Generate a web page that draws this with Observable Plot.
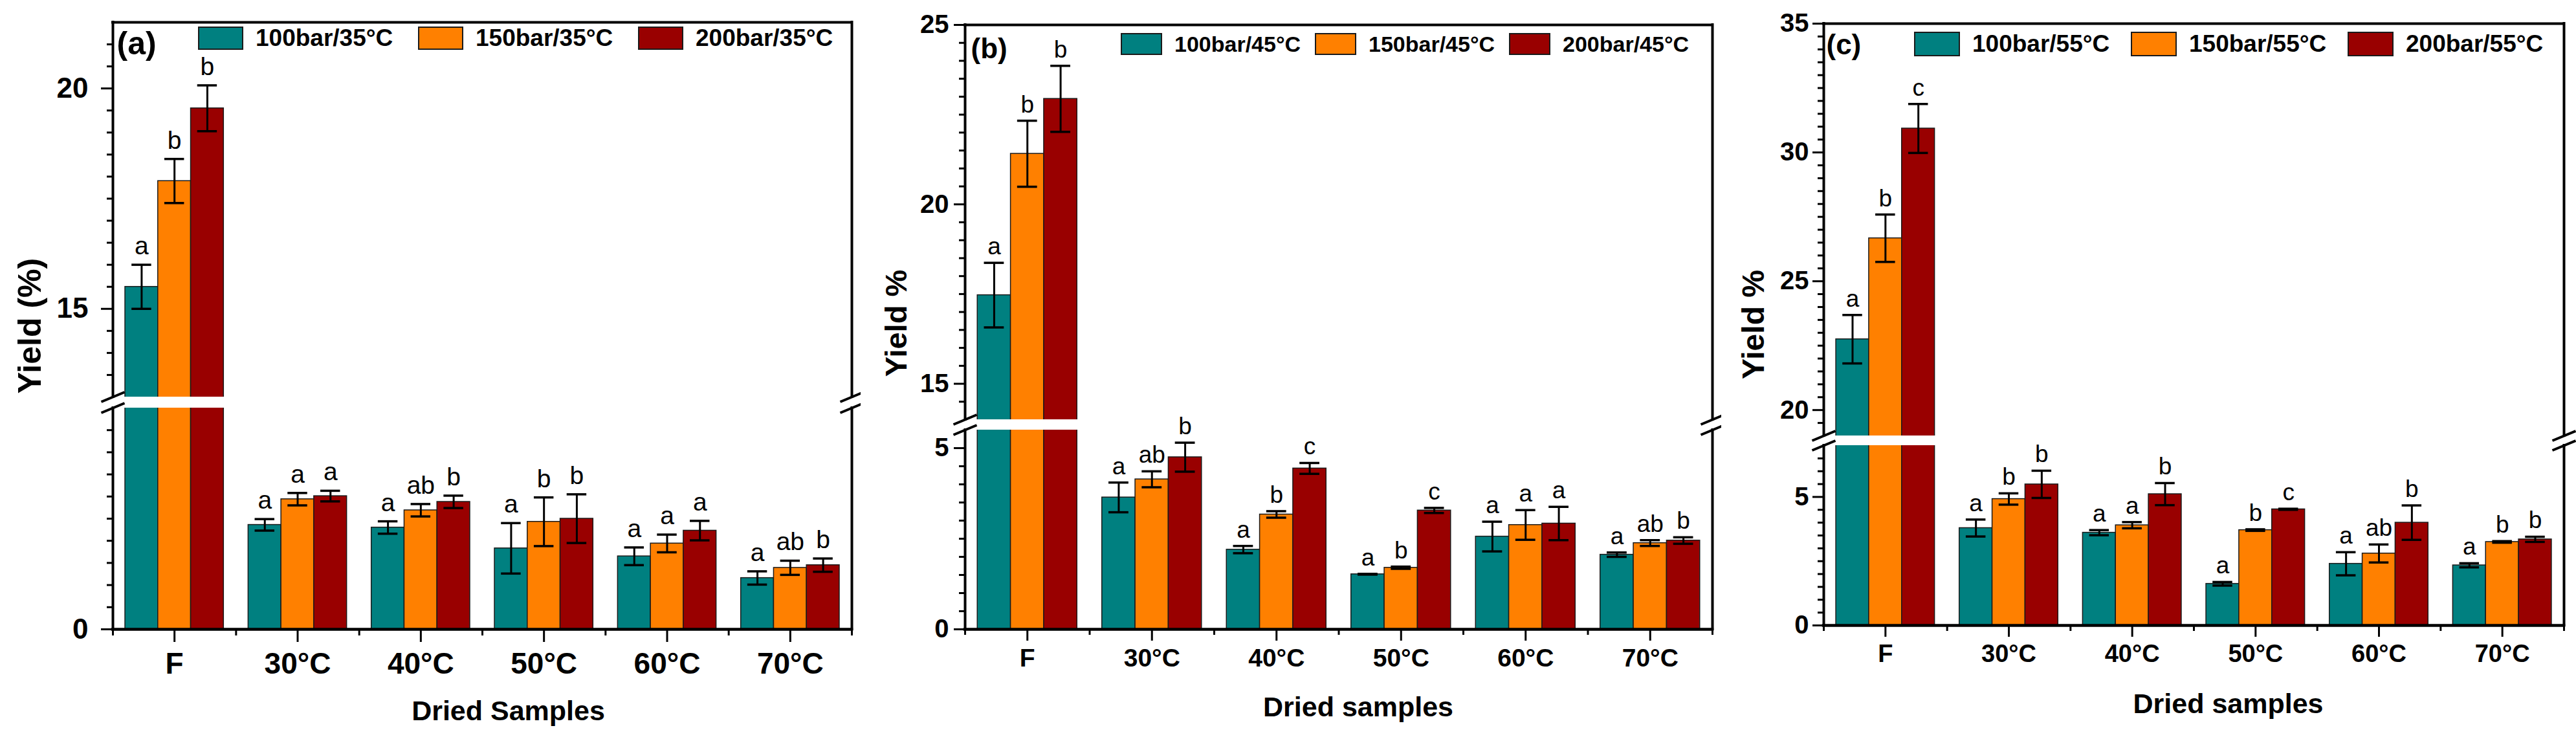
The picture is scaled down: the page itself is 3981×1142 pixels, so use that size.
<!DOCTYPE html>
<html>
<head>
<meta charset="utf-8">
<script src="https://cdn.jsdelivr.net/npm/d3@7"></script>
<script src="https://cdn.jsdelivr.net/npm/@observablehq/plot@0.6"></script>
<style>
  html, body { margin: 0; padding: 0; background: white; }
  #root { position: relative; width: 3981px; height: 1142px; overflow: hidden; background: white; }
  .panel { position: absolute; top: 0; }
  .leg { position: absolute; }
  .lg-swatches { min-height: 0 !important; margin: 0 !important; flex-wrap: nowrap !important; }
  .lg-swatch { margin-right: 0 !important; flex: none; }
  .lg-swatch > svg { margin-right: 20px !important; overflow: visible; }
  .lg-swatch rect { stroke: #1a1a1a; stroke-width: 2px; }
</style>
</head>
<body>
<div id="root"></div>
<script>
// ---------- data ----------
const categories = ["F", "30°C", "40°C", "50°C", "60°C", "70°C"];
const colors = ["#008080", "#ff8000", "#990000"];

const seriesA = ["100bar/35°C", "150bar/35°C", "200bar/35°C"];
const yA100 = [15.50, 2.36, 2.30, 1.83, 1.65, 1.16];
const yA150 = [17.90, 2.94, 2.69, 2.43, 1.94, 1.39];
const yA200 = [19.55, 3.01, 2.88, 2.50, 2.23, 1.45];
const eA100 = [0.50, 0.13, 0.14, 0.57, 0.20, 0.15];
const eA150 = [0.50, 0.14, 0.14, 0.55, 0.20, 0.16];
const eA200 = [0.52, 0.12, 0.14, 0.55, 0.22, 0.15];
const lA100 = ["a", "a", "a", "a", "a", "a"];
const lA150 = ["b", "a", "ab", "b", "a", "ab"];
const lA200 = ["b", "a", "b", "b", "a", "b"];

const seriesB = ["100bar/45°C", "150bar/45°C", "200bar/45°C"];
const yB100 = [17.47, 3.64, 2.20, 1.52, 2.56, 2.06];
const yB150 = [21.41, 4.14, 3.17, 1.70, 2.88, 2.38];
const yB200 = [22.94, 4.75, 4.44, 3.28, 2.92, 2.45];
const eB100 = [0.90, 0.41, 0.10, 0.01, 0.41, 0.06];
const eB150 = [0.92, 0.22, 0.09, 0.03, 0.41, 0.08];
const eB200 = [0.92, 0.40, 0.15, 0.07, 0.46, 0.09];
const lB100 = ["a", "a", "a", "a", "a", "a"];
const lB150 = ["b", "ab", "b", "b", "a", "ab"];
const lB200 = ["b", "b", "c", "c", "a", "b"];

const seriesC = ["100bar/55°C", "150bar/55°C", "200bar/55°C"];
const yC100 = [22.75, 3.79, 3.61, 1.62, 2.40, 2.34];
const yC150 = [26.67, 4.92, 3.90, 3.71, 2.80, 3.25];
const yC200 = [30.93, 5.49, 5.11, 4.52, 4.00, 3.35];
const eC100 = [0.94, 0.33, 0.10, 0.07, 0.45, 0.08];
const eC150 = [0.92, 0.22, 0.12, 0.03, 0.35, 0.03];
const eC200 = [0.95, 0.53, 0.43, 0.02, 0.67, 0.10];
const lC100 = ["a", "a", "a", "a", "a", "a"];
const lC150 = ["b", "b", "a", "b", "ab", "b"];
const lC200 = ["c", "b", "b", "c", "b", "b"];

// y-axis segments (broken axis) and tick labels
const domainA = [0, 5, 13, 21.5];
const domainB = [0, 5.5, 14, 25];
const domainC = [0, 7, 19, 35];
const ticksA = [0, 15, 20];
const ticksB = [0, 5, 15, 20, 25];
const ticksC = [0, 5, 20, 25, 30, 35];
const minorStep = 0.5;

// ---------- layout / style ----------
const H = 1142;
const FONT = "'Liberation Sans', Arial, Helvetica, sans-serif";
const GROUP = 0.8;     // fraction of a category slot filled by its three bars
const CAP = 0.08;      // half width of error-bar caps (slot units)

const slash = { draw(ctx) { ctx.moveTo(-18, 7.5); ctx.lineTo(18, -7.5); } };

function rowsOf(series, vals, errs, lets) {
  const rows = [];
  vals.forEach((arr, si) => arr.forEach((v, ci) => {
    const xc = ci + 0.5 + (si - 1) * GROUP / 3;
    rows.push({cat: categories[ci], series: series[si], si, ci, v, e: errs[si][ci], letter: lets[si][ci],
               xc, x1: xc - GROUP / 6, x2: xc + GROUP / 6});
  }));
  return rows;
}

function minorTicks(domain, majors) {
  const [a, b, c, d] = domain;
  const lo = d3.range(a, b - 1e-9, minorStep);
  const hi = d3.range(c + minorStep, d - 1e-9, minorStep);
  return lo.concat(hi).filter(t => !majors.some(m => Math.abs(m - t) < 1e-9));
}

function panel(cfg) {
  const rows = rowsOf(cfg.series, cfg.vals, cfg.errs, cfg.lets);
  const [d0, dLo, dHi, dTop] = cfg.domain;
  const bottom = H - cfg.mb;
  const range = [bottom, cfg.breakLoPx, cfg.breakHiPx, cfg.mt];
  const breaks = [
    {x: 0, y: dLo}, {x: 0, y: dHi}, {x: categories.length, y: dLo}, {x: categories.length, y: dHi}
  ];
  const n = categories.length;
  const plot = Plot.plot({
    width: cfg.width,
    height: H,
    marginLeft: cfg.ml, marginRight: cfg.mr, marginTop: cfg.mt, marginBottom: cfg.mb,
    style: {fontFamily: FONT, background: "white", overflow: "visible", color: "black"},
    x: {type: "linear", domain: [0, n], axis: null},
    y: {type: "linear", domain: cfg.domain, range, axis: null},
    color: {type: "ordinal", domain: cfg.series, range: colors},
    marks: [
      Plot.rect(rows, {x1: "x1", x2: "x2", y1: 0, y2: "v", fill: "series", stroke: "#1a1a1a", strokeWidth: 1.5}),
      Plot.rect([0], {x1: 0, x2: n, y1: dLo, y2: dHi, fill: "white"}),
      Plot.ruleX(rows, {x: "xc", y1: d => d.v - d.e, y2: d => d.v + d.e, stroke: "black", strokeWidth: 3}),
      Plot.ruleY(rows, {y: d => d.v + d.e, x1: d => d.xc - CAP, x2: d => d.xc + CAP, stroke: "black", strokeWidth: 3.5}),
      Plot.ruleY(rows, {y: d => d.v - d.e, x1: d => d.xc - CAP, x2: d => d.xc + CAP, stroke: "black", strokeWidth: 3.5}),
      // frame with broken vertical sides
      Plot.ruleX([0, n], {y1: d0, y2: dLo, stroke: "black", strokeWidth: 4, strokeLinecap: "square"}),
      Plot.ruleX([0, n], {y1: dHi, y2: dTop, stroke: "black", strokeWidth: 4, strokeLinecap: "square"}),
      Plot.ruleY([dTop], {x1: 0, x2: n, stroke: "black", strokeWidth: 4, strokeLinecap: "square"}),
      Plot.ruleY([d0], {x1: 0, x2: n, stroke: "black", strokeWidth: 4.5, strokeLinecap: "square"}),
      Plot.dot(breaks, {x: "x", y: "y", symbol: slash, r: 10, fill: "none", stroke: "black", strokeWidth: 4}),
      // axes
      Plot.axisY(cfg.ticks, {anchor: "left", tickSize: cfg.ytick, tickPadding: cfg.ypad, strokeWidth: 3,
        tickFormat: d => String(d), fontSize: cfg.tickFont, fontWeight: "bold", label: null}),
      Plot.axisY(minorTicks(cfg.domain, cfg.ticks), {anchor: "left", tickSize: 9, strokeWidth: 3,
        tickFormat: () => "", label: null}),
      Plot.axisX(d3.range(n).map(i => i + 0.5), {anchor: "bottom", tickSize: cfg.xtick, tickPadding: cfg.xpad,
        strokeWidth: 3, tickFormat: d => categories[Math.floor(d)], fontSize: cfg.catFont, fontWeight: "bold", label: null}),
      Plot.axisX(d3.range(n + 1), {anchor: "bottom", tickSize: cfg.xtick / 2, strokeWidth: 3,
        tickFormat: () => "", label: null}),
      // annotations
      Plot.text(rows, {x: "xc", y: d => d.v + d.e, text: "letter", dy: -cfg.letGap, lineAnchor: "bottom",
        fontSize: cfg.letFont, fill: "black"}),
      Plot.text([cfg.tag], {text: d => d, frameAnchor: "top-left", dx: cfg.tagDx, dy: cfg.tagDy, textAnchor: "start",
        lineAnchor: "top", fontSize: cfg.tagFont, fontWeight: "bold"}),
      Plot.text([cfg.ytitle], {text: d => d, frameAnchor: "left", rotate: -90, dx: cfg.ytDx, dy: cfg.ytDy,
        textAnchor: "middle", lineAnchor: "middle", fontSize: cfg.ytFont, fontWeight: "bold"}),
      Plot.text([cfg.xtitle], {text: d => d, frameAnchor: "bottom", dx: cfg.xtDx, dy: cfg.xtDy,
        textAnchor: "middle", lineAnchor: "top", fontSize: 43, fontWeight: "bold"})
    ]
  });
  const wrap = document.createElement("div");
  wrap.className = "panel";
  wrap.style.left = cfg.left + "px";
  wrap.appendChild(plot);
  document.getElementById("root").appendChild(wrap);

  const leg = Plot.legend({
    color: {type: "ordinal", domain: cfg.series, range: colors},
    legend: "swatches",
    swatchWidth: cfg.swW, swatchHeight: cfg.swH,
    className: "lg",
    style: {fontFamily: FONT, fontSize: cfg.legFont + "px", fontWeight: "bold", lineHeight: cfg.swH + "px", color: "black"}
  });
  const lw = document.createElement("div");
  lw.className = "leg";
  lw.style.left = cfg.legX + "px";
  lw.style.top = cfg.legY + "px";
  lw.appendChild(leg);
  document.getElementById("root").appendChild(lw);
  lw.querySelectorAll(".lg-swatch").forEach(s => { s.style.width = cfg.legStep + "px"; });
}

panel({
  left: 0, width: 1330, ml: 174, mr: 14, mt: 34, mb: 170, breakLoPx: 630, breakHiPx: 613,
  domain: domainA, ticks: ticksA, series: seriesA,
  vals: [yA100, yA150, yA200], errs: [eA100, eA150, eA200], lets: [lA100, lA150, lA200],
  ytick: 18, ypad: 20, tickFont: 44, xtick: 20, xpad: 16, catFont: 46,
  letFont: 39, letGap: 16,
  tag: "(a)", tagDx: 6, tagDy: 14, tagFont: 50,
  ytitle: "Yield (%)", ytDx: -128, ytDy: 0, ytFont: 50,
  xtitle: "Dried Samples", xtDx: 40, xtDy: 110,
  swW: 68, swH: 34, legX: 307, legY: 42, legStep: 340, legFont: 37
});

panel({
  left: 1330, width: 1330, ml: 161, mr: 14, mt: 38, mb: 170, breakLoPx: 664, breakHiPx: 648,
  domain: domainB, ticks: ticksB, series: seriesB,
  vals: [yB100, yB150, yB200], errs: [eB100, eB150, eB200], lets: [lB100, lB150, lB200],
  ytick: 17, ypad: 8, tickFont: 40, xtick: 18, xpad: 12, catFont: 39,
  letFont: 37, letGap: 13,
  tag: "(b)", tagDx: 9, tagDy: 20, tagFont: 44,
  ytitle: "Yield %", ytDx: -106, ytDy: -6, ytFont: 47,
  xtitle: "Dried samples", xtDx: 30, xtDy: 104,
  swW: 62, swH: 32, legX: 1733, legY: 52, legStep: 300, legFont: 34
});

panel({
  left: 2660, width: 1321, ml: 158, mr: 19, mt: 36, mb: 176, breakLoPx: 688, breakHiPx: 673,
  domain: domainC, ticks: ticksC, series: seriesC,
  vals: [yC100, yC150, yC200], errs: [eC100, eC150, eC200], lets: [lC100, lC150, lC200],
  ytick: 17, ypad: 6, tickFont: 40, xtick: 18, xpad: 12, catFont: 38,
  letFont: 37, letGap: 13,
  tag: "(c)", tagDx: 4, tagDy: 16, tagFont: 44,
  ytitle: "Yield %", ytDx: -108, ytDy: 0, ytFont: 48,
  xtitle: "Dried samples", xtDx: 53, xtDy: 105,
  swW: 69, swH: 36, legX: 2959, legY: 50, legStep: 335, legFont: 37
});
</script>
</body>
</html>
